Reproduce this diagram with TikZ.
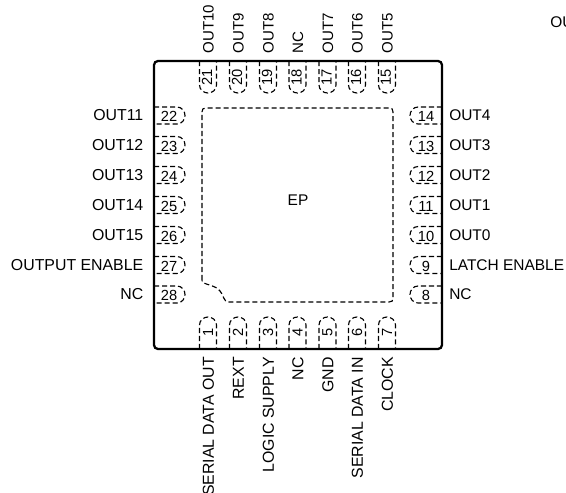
\documentclass[tikz,border=0pt]{standalone}
\usepackage{fontspec}
\setmainfont{Liberation Sans}
\tikzset{
  lab/.style={font=\fontsize{11.6pt}{13pt}\selectfont,inner sep=0pt,text=black},
  labbig/.style={font=\fontsize{11.9pt}{13pt}\selectfont,inner sep=0pt,text=black},
  labtop/.style={font=\fontsize{11.3pt}{13pt}\selectfont,inner sep=0pt,text=black},
  num/.style={font=\fontsize{11pt}{13pt}\selectfont,inner sep=0pt,text=black},
  pinbox/.style={draw=black,line width=0.85pt,dash pattern=on 3.8pt off 2.2pt},
  body/.style={draw=black,line width=1.7pt,rounded corners=3pt},
  pad/.style={draw=black,line width=0.85pt,dash pattern=on 3.8pt off 2.2pt},
}
\begin{document}
\begin{tikzpicture}[x=0.75pt,y=-0.75pt]
\useasboundingbox (0,0) rectangle (566,492);
% exposed pad
\draw[pad] (202,280) -- (202,112) .. controls (202,109) and (203,108) .. (206,108) -- (389,108) .. controls (392,108) and (393,109) .. (393,112) -- (393,298) .. controls (393,301) and (392,302) .. (389,302) -- (229,302) .. controls (223,302) and (224,295) .. (220,291) .. controls (215,285) and (207,285) .. (204,283) .. controls (202,282) and (202,281) .. (202,280);
\node[lab] (ep) at (298,200) {EP};
% bottom pins
\foreach \n/\x/\t in {1/208/SERIAL DATA OUT,2/238/REXT,3/268/LOGIC SUPPLY,4/297.5/NC,5/327.5/GND,6/357/SERIAL DATA IN,7/387/CLOCK}{
  \draw[pinbox] (\x-8.5,349) -- (\x-8.5,325) .. controls (\x-8.5,320) and (\x-4,317) .. (\x,317) .. controls (\x+4,317) and (\x+8.5,320) .. (\x+8.5,325) -- (\x+8.5,349);
  \node[num,rotate=90] (b\n) at (\x,332.5) {\n};
  \node[labbig,rotate=90,anchor=east] (bl\n) at (\x+0.5,357) {\t};
}
% top pins
\foreach \n/\x/\t in {21/208/OUT10,20/238/OUT9,19/268/OUT8,18/297.5/NC,17/327.5/OUT7,16/357/OUT6,15/387/OUT5}{
  \draw[pinbox] (\x-8.5,61) -- (\x-8.5,85) .. controls (\x-8.5,90) and (\x-4,93) .. (\x,93) .. controls (\x+4,93) and (\x+8.5,90) .. (\x+8.5,85) -- (\x+8.5,61);
  \node[num,rotate=90] (t\n) at (\x-1,77) {\n};
  \node[labtop,rotate=90,anchor=west] (tl\n) at (\x+0.5,53.5) {\t};
}
% left pins
\foreach \n/\y/\t in {22/115.5/OUT11,23/145/OUT12,24/175/OUT13,25/205/OUT14,26/235/OUT15,27/265/OUTPUT ENABLE,28/294.5/NC}{
  \draw[pinbox] (154,\y-8.5) -- (177,\y-8.5) .. controls (182,\y-8.5) and (185,\y-4) .. (185,\y) .. controls (185,\y+4) and (182,\y+8.5) .. (177,\y+8.5) -- (154,\y+8.5);
  \node[num] (l\n) at (169,\y+1) {\n};
  \node[labbig,anchor=east] (ll\n) at (143.5,\y) {\t};
}
% right pins
\foreach \n/\y/\t in {14/115.5/OUT4,13/145/OUT3,12/175/OUT2,11/205/OUT1,10/235/OUT0,9/265/LATCH ENABLE,8/294.5/NC}{
  \draw[pinbox] (442,\y-8.5) -- (418,\y-8.5) .. controls (413,\y-8.5) and (410,\y-4) .. (410,\y) .. controls (410,\y+4) and (413,\y+8.5) .. (418,\y+8.5) -- (442,\y+8.5);
  \node[num] (r\n) at (426,\y+1) {\n};
  \node[lab,anchor=west] (rl\n) at (449,\y) {\t};
}
\draw[body] (154,61) rectangle (442,349);
\node[lab,anchor=west] (stray) at (550,22) {OU};
\end{tikzpicture}
\end{document}
